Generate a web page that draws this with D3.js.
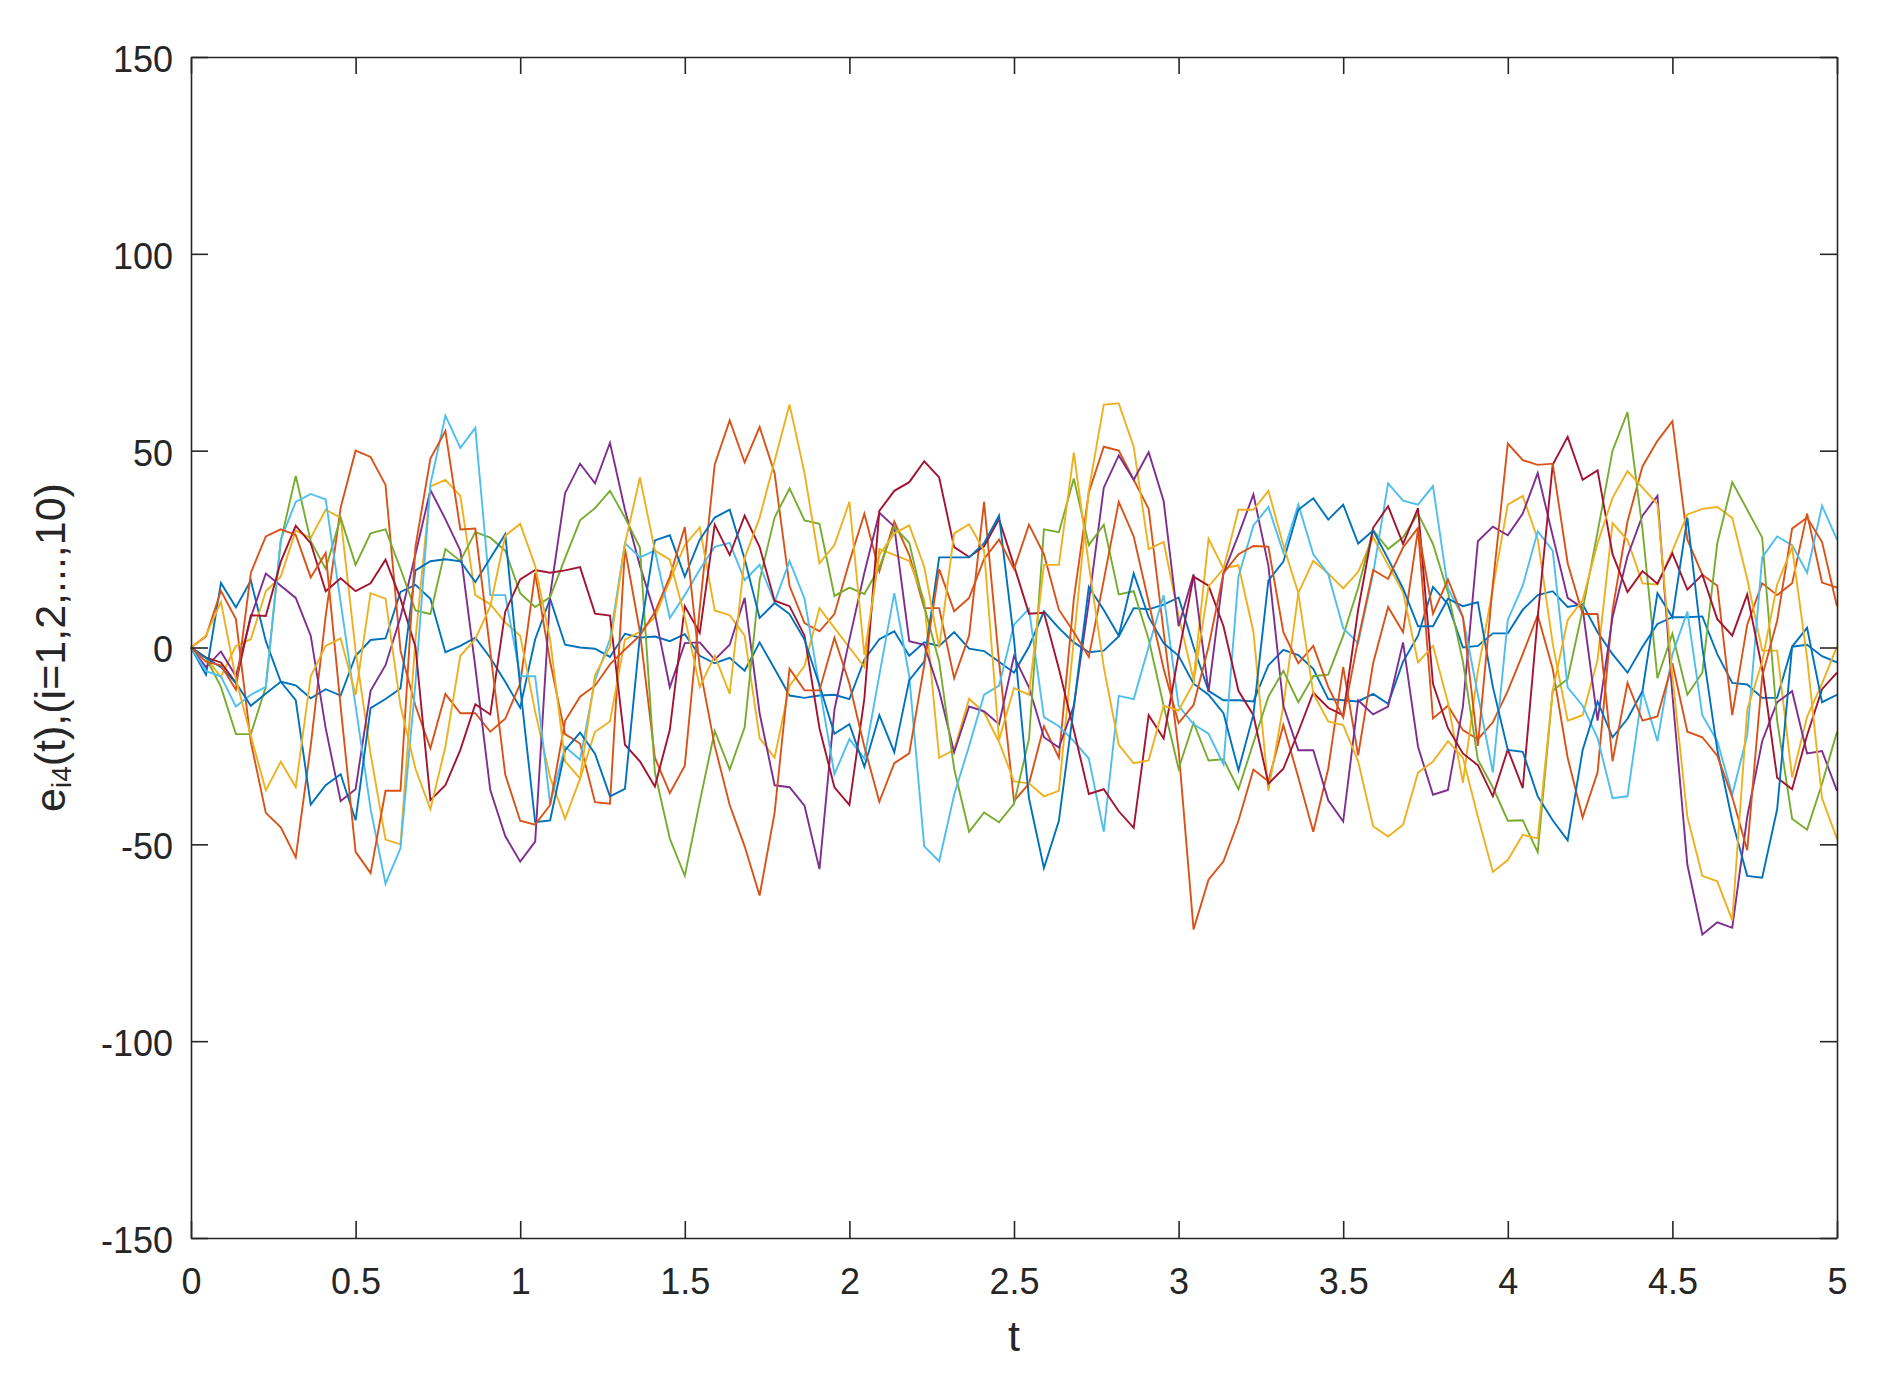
<!DOCTYPE html>
<html>
<head>
<meta charset="utf-8">
<script src="https://cdn.jsdelivr.net/npm/d3@7"></script>
<style>
  html, body { margin: 0; padding: 0; background: #ffffff; }
  svg { display: block; }
  .tick text { font-family: "Liberation Sans", Arial, Helvetica, sans-serif; }
</style>
</head>
<body>
<svg id="chart" width="1902" height="1383"></svg>
<script>
// ---------------- data ----------------
const nPoints = 111;
const tMax = 5;
const xTicks = [0, 0.5, 1, 1.5, 2, 2.5, 3, 3.5, 4, 4.5, 5];
const yTicks = [-150, -100, -50, 0, 50, 100, 150];
const xLabel = "t";

const seriesColors = ["#0072BD", "#D95319", "#EDB120", "#7E2F8E", "#77AC30",
                      "#4DBEEE", "#A2142F", "#0072BD", "#D95319", "#EDB120"];

const e1 = [0, -6.9, 16.4, 10.2, 17, 1.6, -8.7, -9.6, -12.9, -10.6, -12.2, -2.1, 1.9, 2.3, 14.1, 15.9, 12.4, -1.2, 0.4, 2.5,
  -2.6, -8.7, -15.3, 2.1, 12.4, 0.7, 0, -0.3, -2.4, 3.5, 2.5, 2.8, 1.6, 3.4, -2.1, -4, -2.6, -5.9,
  1.3, -5.4, -12.2, -12.8, -12.2, -12, -13.1, -3.1, 2.1, 4.1, -2.1, 1.3, 0.4, 3.9, -0.3, -0.9, -3.6, -6.4, 0.2,
  9.2, 4.9, 1.3, -1.2, -0.8, 2.8, 10, 9.7, 10.9, 12.7, 0.2, -11, -13.4, -13.4, -13.7, -4.5, -0.6, -1.9, -5.4,
  -13.1, -13.4, -13.7, -11.8, -14.3, -3.6, 3, 15.4, 11, 0, 0.4, 3.6, 3.6, 9.6, 13.3, 14.3, 10.3, 11,
  3.9, -1.7, -6.4, 0.2, 6, 7.7, 7.7, 7.9, -1.7, -9, -9.4, -12.8, -12.8, 0.2, 0.7, -2.2, -3.8];

const e2 = [0, 2.8, 14.4, 7.2, -24, -42, -45.7, -53.3, -25, 8, 35.5, 50, 48.4, 41.3, -0.8, -14.8, -25.6, -11.8, -16.7, -16.7,
  -21.4, -18.1, -9.2, 18.9, -3.6, -22, -24.4, -39.3, -39.7, 25.1, 4, -28, -37, -30, 10, 46.5, 57.7, 47,
  56, 44.3, 15.6, 6.2, 4.1, 8.5, 21.8, 34, 19.4, 32, 23.5, 10, 10, -7.8, 3, 37, -3.6, -39, -34.6,
  -20, -28, 12.4, 39.4, 51, 50, 42.6, 35.2, 4, -26, -71.6, -59, -54.3, -44, -31, -34, -19.7, -33, -46.8,
  -30.8, -5, -27.4, -4, 10.3, 3.9, 30, -18, -14.8, -21, -23.3, -19, -11, -1.7, 8.2, -5.4, -28, -43.2,
  -31.7, 9.5, 32, 46, 52.5, 57.5, 27.4, 18.5, 15.7, -17.2, 5.8, 16.3, 13.3, 16.3, 34, 16.5, 15.2];

const e3 = [0, -2.6, -7.5, 0.4, 2.1, 14.3, 18, 29.7, 27.8, 35, 33, -0.8, -27, -48.8, -50, 2, 40.9, 42.6, 38.5, 13.3,
  11, 6.3, 3, -16.3, -33, -43.5, -33.3, -21.4, -18.8, 2, 4, 7.7, 17, 26, 30.5, 9.4, 8.2, 3,
  -23, -28, -9.7, -4.7, 10, 5, 0, -5, 25, 23.5, 22, 12, -28, -26, -13, -16.5, -24, -34, -34.5,
  -37.8, -36.4, 2, 40, 61.7, 62, 51, 25, 26.8, 8, -8.2, 27.6, 20, 20.9, 4, -36.4, -14.8, 13.8, 22,
  18.8, 15, 19.2, 28, 21, 14, -3.8, 0.4, -14, -34.4, -6, 15, 36.3, 38.5, 27.5, 1, -18.6, -17.2,
  -3.1, 31.6, 27.3, 16.3, 16, 24.6, 33.8, 35.2, 35.7, 32.9, 17.4, -0.8, -0.8, -33, -17.6, -9.2, 0.2];

const e4 = [0, -5, -1, -7.3, 7.7, 18.8, 15.7, 12.6, 3, -20.5, -39, -36, -11, -4.5, 7.7, 23.7, 40, 32.6, 24.6, -5,
  -36.2, -47.9, -54.4, -49.3, 13.3, 39.2, 46.7, 41.7, 52, 35, 20.8, 8.6, -10.1, 1.1, 1.3, -3.1, 0.7, 12.6,
  -16.7, -35, -35.5, -40.2, -56.3, -15.8, 2, 19, 34.2, 30.7, 1.6, 0.7, -11, -26.6, -15, -16.2, -19.5, -2.2, -10.1,
  -22.8, -25.4, -14.8, 11.5, 40.6, 48.8, 42.6, 49.6, 37.2, 5.4, 18.6, -11.3, 18.9, 28.6, 38.9, 20.8, -14.8, -26.1, -26.1,
  -38.8, -44.2, -13.4, -17, -15, 1.3, -25.2, -37.4, -36.2, -15, 27, 30.7, 28.5, 34, 44.3, 28.4, 12.6, 10,
  -18.6, 7.7, 23.2, 33.5, 38.5, -12, -55.2, -72.9, -69.8, -71.2, -43, -23.8, -13.9, -11.1, -26.9, -26.3, -36.4];

const e5 = [0, -2.6, -10, -22, -22, -10, 27, 43.6, 27, 20, 33, 21, 29, 30, 20, 9.4, 8.5, 25, 22, 29.3,
  27.9, 24.6, 13.8, 10.3, 12.8, 22.7, 32.3, 35.4, 39.8, 33, 25.4, -31.7, -48.6, -58, -39.2, -21.2, -31, -20.3,
  17.1, 33, 40.4, 32.3, 31.4, 13.1, 15.2, 13.6, 20.3, 30.6, 26.6, 10.5, -3.6, -30.8, -46.8, -41.9, -44.4, -39.7, -23.3,
  30, 29.3, 42.9, 26, 31.2, 13.5, 14.3, 2.1, -14.8, -30.8, -19.1, -28.7, -28.4, -36, -24.2, -12.5, -5.9, -13.9, -7.3,
  -6.9, 3, 15.2, 29.8, 25, 28, 34, 26.3, 14, -3.6, -28.5, -35.5, -44, -43.9, -52, -11, -8, 9.6,
  29.3, 50, 59.8, 30, -7.8, 3.5, -12, -6.4, 26.5, 42, 35, 27.9, -18.6, -43.5, -46.3, -34.6, -21.4];

const e6 = [0, -6, -7.3, -15, -12, -10, 27.4, 37, 39, 37.6, 11.5, -14.8, -41, -60, -51, -9, 41.5, 58.9, 50.7, 55.8,
  13.3, 13.3, -7.3, -7.3, -39.7, -25.2, -28.5, -8.3, 2.1, 26.5, 22.9, 24.6, 7.5, 13.3, 19.8, 25.6, 26.6, 17.1,
  21, 11.5, 22, 12.4, -10, -32.2, -23.3, -28.2, -7, 13.8, -7.3, -50.5, -54.3, -37.4, -25, -12, -9.7, 5.8, 9.8,
  -17.7, -20, -23.8, -28.2, -46.8, -12.3, -13.1, 0.2, 13.3, -14.8, -19.5, -21.9, -29.7, 18, 31, 35.7, 24.1, 36.3, 23.7,
  18.6, 4.9, 1.1, 18.8, 41.7, 37.3, 36.3, 41, 15, 7.7, -12, -31.7, 7, 15.7, 29.5, 24.6, -10.1, -14.8,
  -23, -38.3, -37.8, -11, -23.8, -1.7, 9.1, -17.2, -23.8, -37.4, -22.3, 22.9, 28.2, 26, 19, 36, 27.4];

const e7 = [0, -2.6, -3.8, -9, 8.2, 8, 21.8, 30.9, 26.5, 14.3, 17.6, 14.3, 16.3, 22.3, 12.4, 0.2, -38.8, -35, -26, -14.4,
  -17, 9.1, 17.3, 19.7, 19, 19.6, 20.4, 8.6, 8.1, -24.7, -28.9, -35.3, -20.9, 10.5, 3.7, 31.2, 23.5, 33.5,
  25.5, 11.9, 10.5, 3, -20.5, -35.5, -40, -13, 34.7, 39.8, 42, 47.3, 43.2, 25.5, 23, 25.7, 32.6, 20.8, 8.6,
  8.8, -5.4, -21, -37.2, -36, -41.6, -45.8, -17.2, -23.1, -1.7, 18, 15.7, 5.4, -11, -17.2, -34.6, -30.8, -21.4, -11.5,
  -15.3, -17.2, 9.6, 30.4, 35.9, 26.3, 35.4, -9.2, -20.5, -26.9, -29.9, -37.8, -25.9, -35.7, 7.7, 46.4, 53.5, 42.6,
  45, 23.7, 14.1, 19.4, 16.2, 23.9, 14.7, 18.5, 7.2, 3, 13.5, -5.4, -33.1, -36, -22.3, -10.6, -6.4];

const e8 = [0, -2.6, -5, -9, -14.8, -11.7, -8.7, -13.4, -39.9, -35, -32.2, -43.9, -15.4, -13.1, -10.4, 19.6, 21.9, 22.4, 21.9, 16.6,
  22.7, 28.8, -10, -44.4, -43.9, -26.1, -21.6, -27, -37.8, -35.9, 3, 27.2, 28.5, 18, 27.4, 33, 35, 22.5,
  7.5, 11.3, 8.5, 2, -9.6, -21.9, -19.5, -30.3, -17.2, -26.6, -8.3, -3.6, 22.9, 22.9, 22.9, 26.5, 33.5, 2, -38.3,
  -56, -44, -15, 15.4, 9.5, 3, 18.8, 7.7, 1.1, -2.1, -9.2, -12, -16.7, -31.2, -17, 17, 21.8, 35, 37.9,
  32.5, 36.3, 26.4, 29.7, 22.5, 15, 5.4, 5.4, 12.4, 10.5, 11.5, -10, -26, -26.5, -37.8, -43.9, -49, -26.1,
  -13.7, -22.8, -18.1, -11.1, 13.8, 7.7, 33, 0, -26, -44, -58, -58.5, -41.1, 0.2, 5, -13.9, -12];

const e9 = [0, -3.6, -4.5, -10.7, 19, 28.2, 30, 28.6, 17.8, 24, -15, -51.9, -57.3, -36.4, -36.4, 25.6, 48, 55, 30, 30.2,
  -1, -32.3, -44, -45, -40, -18.6, -12.5, -9.7, -4.3, -0.5, 3, 9, 18, 30.6, -5, -25, -40, -50.5,
  -63, -42, -5.4, -10.9, -10.9, 2.5, -9.2, -25.2, -39.2, -29.4, -26.9, -4.5, 19.9, 9.2, 12.6, 22.5, 27.4, 19.9, 31.2,
  23.7, 9.6, 3.9, -2.4, 17.1, 37, 28.2, 11.5, -5.4, -19.2, -14.6, 0.2, 18.9, 23.7, 25.8, 25.6, 3.9, -4, 0.4,
  -10, -17.8, 2, 19.7, 17.4, 25.4, 30.4, 8.6, 17.3, 7.7, -25, 16, 51.8, 47.6, 46.4, 46.7, 21.4, 8.5,
  8.5, -28.9, -9, -18.6, -17.5, -4, -21.4, -22.8, -27.5, -38, -51.5, -7.3, 6.8, 30.2, 33, 26.8, 10.5];

const e10 = [0, 3, 11.6, -8, -22.5, -36.3, -29, -35.5, -7.3, 0.4, 2.3, -12, 13.8, 12.4, -14.8, -30.8, -41.1, -25.2, -2.1, 2.1,
  10.5, 28.4, 31.4, 20.7, 2, -28.9, -33.3, -7, 0.2, 26.3, 43.2, 24.6, 22.3, 7.7, -10, -2.1, -11.8, 22.7,
  33, 47.4, 61.7, 44.3, 21.4, 26, 37, -1.9, 23.5, 29, 31, 20.5, 0, 29, 31.3, 24.6, -23.5, -10.3, -12,
  21, 21, 49.5, 21, -5, -24.7, -29.4, -28.7, -14.8, -16, -9, 15.5, 20, 35, 35, 39.8, 26, 13.8, -11.7,
  -18.8, -19.7, -28.9, -45.4, -48, -45, -31.8, -29, -23.8, -28, -43, -57, -54, -47.6, -48.5, -11, 7, 12,
  26.5, 38, 44.8, 40.6, 36.4, -7.3, -43, -58, -59.4, -69.3, -15.8, -3.6, 16, 25.4, -2.6, -38.3, -48.6];

const allSeries = [e1, e2, e3, e4, e5, e6, e7, e8, e9, e10];

// ---------------- layout ----------------
const plot = { left: 191, right: 1837, top: 57, bottom: 1238 };
const axisColor = "#262626";
const tickLen = 17;

const svg = d3.select("#chart");
svg.append("rect").attr("x", 0).attr("y", 0).attr("width", 1902).attr("height", 1383).attr("fill", "#ffffff");

const x = d3.scaleLinear().domain([0, tMax]).range([plot.left, plot.right]);
const y = d3.scaleLinear().domain([-150, 150]).range([plot.bottom, plot.top]);

const tStep = tMax / (nPoints - 1);

const line = d3.line()
  .x((d, i) => x(i * tStep))
  .y(d => y(d));

const linesG = svg.append("g");
allSeries.forEach((s, k) => {
  linesG.append("path")
    .datum(s)
    .attr("d", line)
    .attr("fill", "none")
    .attr("stroke", seriesColors[k])
    .attr("stroke-width", 1.9)
    .attr("stroke-linejoin", "miter")
    .attr("stroke-miterlimit", 4);
});

function styleAxis(g, showText) {
  g.select(".domain").attr("stroke", axisColor).attr("stroke-width", 1.6);
  g.selectAll(".tick line").attr("stroke", axisColor).attr("stroke-width", 1.6);
  g.selectAll(".tick text")
    .attr("fill", axisColor)
    .style("font-size", "36px")
    .style("font-family", "'Liberation Sans', Arial, Helvetica, sans-serif");
  if (!showText) g.selectAll(".tick text").remove();
}

const fmt = d => String(d);

const gBottom = svg.append("g")
  .attr("transform", `translate(0,${plot.bottom})`)
  .call(d3.axisBottom(x).tickValues(xTicks).tickFormat(fmt).tickSizeInner(-tickLen).tickSizeOuter(0).tickPadding(30));
styleAxis(gBottom, true);
gBottom.selectAll(".tick text").attr("dy", "0.71em");

const gTop = svg.append("g")
  .attr("transform", `translate(0,${plot.top})`)
  .call(d3.axisTop(x).tickValues(xTicks).tickSizeInner(-tickLen).tickSizeOuter(0));
styleAxis(gTop, false);

const gLeft = svg.append("g")
  .attr("transform", `translate(${plot.left},0)`)
  .call(d3.axisLeft(y).tickValues(yTicks).tickFormat(fmt).tickSizeInner(-tickLen).tickSizeOuter(0).tickPadding(18));
styleAxis(gLeft, true);
gLeft.selectAll(".tick text").attr("dy", "0.40em");

const gRight = svg.append("g")
  .attr("transform", `translate(${plot.right},0)`)
  .call(d3.axisRight(y).tickValues(yTicks).tickSizeInner(-tickLen).tickSizeOuter(0));
styleAxis(gRight, false);

// x label
svg.append("text")
  .attr("x", (plot.left + plot.right) / 2)
  .attr("y", 1351)
  .attr("text-anchor", "middle")
  .attr("fill", axisColor)
  .style("font-family", "'Liberation Sans', Arial, Helvetica, sans-serif")
  .style("font-size", "43px")
  .text(xLabel);

// y label
const yl = svg.append("text")
  .attr("transform", `translate(65,${(plot.top + plot.bottom) / 2}) rotate(-90)`)
  .attr("text-anchor", "middle")
  .attr("fill", axisColor)
  .style("font-family", "'Liberation Sans', Arial, Helvetica, sans-serif")
  .style("font-size", "43px");
yl.append("tspan").text("e");
yl.append("tspan").attr("dy", 6).style("font-size", "28px").text("i4");
yl.append("tspan").attr("dy", -6).text("(t),(i=1,2,...,10)");
</script>
</body>
</html>
